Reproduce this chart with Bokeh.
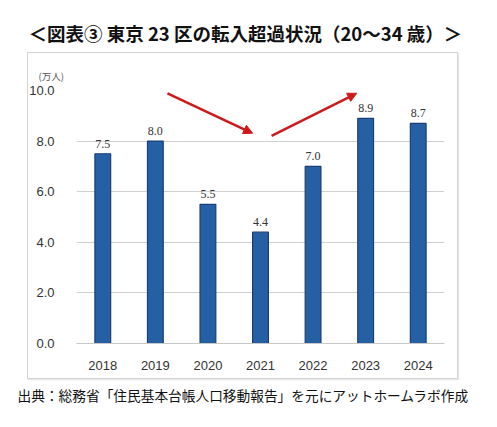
from bokeh.plotting import figure
from bokeh.models import (FactorRange, Range1d, LabelSet, ColumnDataSource, Title,
                          Arrow, NormalHead, FixedTicker, PrintfTickFormatter,
                          InlineStyleSheet)
from bokeh.embed import file_html
from bokeh.resources import INLINE

years = ["2018", "2019", "2020", "2021", "2022", "2023", "2024"]
values = [7.5, 8.0, 5.5, 4.4, 7.0, 8.9, 8.7]
labels = ["7.5", "8.0", "5.5", "4.4", "7.0", "8.9", "8.7"]
y_ticks = [0, 2, 4, 6, 8, 10]
title_text = "＜図表③ 東京 23 区の転入超過状況（20～34 歳）＞"
unit_text = "(万人)"
source_text = "出典：総務省「住民基本台帳人口移動報告」を元にアットホームラボ作成"
# trend arrows (category position, value)
arrow1 = (1.73, 9.89, 3.35, 8.31)
arrow2 = (3.71, 8.21, 5.33, 9.89)

FONT = "Arial"
JFONT = "Noto Sans CJK JP"

# light grey frame around the chart area
box_sheet = InlineStyleSheet(css="""
:host { position: relative; }
:host::after {
  content: ""; position: absolute; left: 27px; top: 52px; width: 429px; height: 325px;
  border: 1px solid #d4d4d4; box-shadow: 1px 1px 1px #e8e8e8;
  pointer-events: none; z-index: 10;
}
""")

src = ColumnDataSource(dict(x=years, top=values, lab=labels))

p = figure(width=481, height=416, x_range=FactorRange(*years, range_padding=0),
           y_range=Range1d(0, 10), output_backend="svg", toolbar_location=None,
           min_border_left=76, min_border_right=37, min_border_top=90, min_border_bottom=73,
           stylesheets=[box_sheet])
p.outline_line_color = None

p.vbar(x="x", top="top", width=0.3, source=src, fill_color="#2660a4",
       line_color="#1b3f73", line_width=1.2)

p.add_layout(LabelSet(x="x", y="top", text="lab", source=src, text_align="center",
                      text_baseline="bottom", y_offset=6, text_font_size="12px",
                      text_color="#333333", text_font=FONT))

p.xgrid.grid_line_color = None
p.ygrid.grid_line_color = "#d0d0d0"
p.ygrid.ticker = FixedTicker(ticks=y_ticks)
p.yaxis.ticker = FixedTicker(ticks=y_ticks)
p.yaxis.formatter = PrintfTickFormatter(format="%.1f")
for ax in (p.xaxis, p.yaxis):
    ax.axis_line_color = None
    ax.major_tick_line_color = None
    ax.minor_tick_line_color = None
    ax.major_label_text_font = FONT
    ax.major_label_text_font_size = "13px"
    ax.major_label_text_color = "#333333"
p.yaxis.major_label_standoff = 16
p.xaxis.major_label_standoff = 11
p.xaxis.axis_line_color = "#c8c8c8"

for (x0, y0, x1, y1) in (arrow1, arrow2):
    p.add_layout(Arrow(x_start=x0, y_start=y0, x_end=x1, y_end=y1, line_color="#d01818",
                       line_width=2.5,
                       end=NormalHead(size=9, fill_color="#d01818", line_color="#d01818")))

# main title (outermost)
p.title.text = title_text
p.title.text_font = JFONT
p.title.text_font_size = "18.5px"
p.title.text_font_style = "bold"
p.title.text_color = "#111111"
p.title.align = "left"
p.title.offset = -48
p.title.standoff = 28

# unit label next to the frame
p.add_layout(Title(text=unit_text, text_font=JFONT, text_font_size="9.5px",
                   text_font_style="normal", text_color="#555555", align="left",
                   offset=-38, standoff=15), "above")

# source note below the axis
p.add_layout(Title(text=source_text, text_font=JFONT, text_font_size="13.7px",
                   text_font_style="normal", text_color="#111111", align="left",
                   offset=-59, standoff=21), "below")

open("out.html", "w").write(file_html(p, INLINE))
